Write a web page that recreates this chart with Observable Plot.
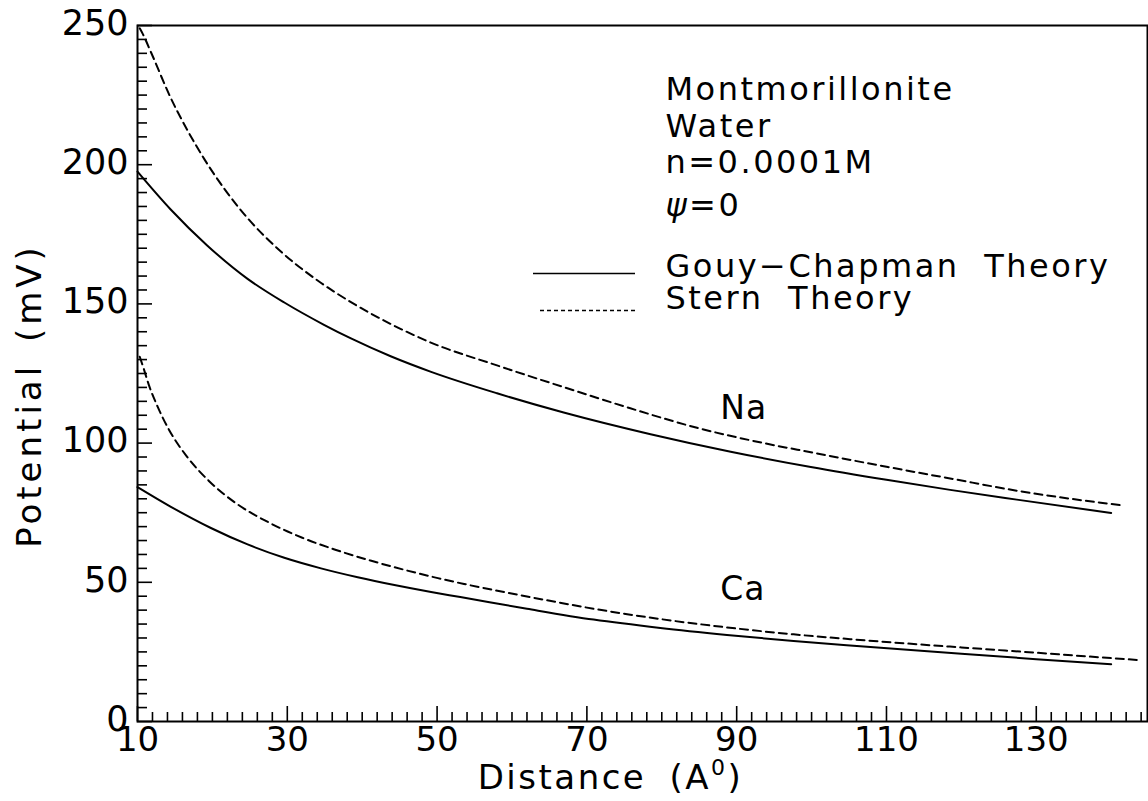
<!DOCTYPE html>
<html><head><meta charset="utf-8">
<script src="https://cdn.jsdelivr.net/npm/d3@7"></script>
<script src="https://cdn.jsdelivr.net/npm/@observablehq/plot@0.6"></script>
<style>body{margin:0;background:#fff}</style>
</head><body><div id="chart"></div>
<script>
// ---- data ----
const naGouyX  = [10, 14.4, 19.3, 24.7, 29.6, 34.9, 38.5, 43.8, 49.2, 58, 66.9, 78.5, 89.2, 99.9, 110, 118.5, 127.4, 140];
const naGouyY  = [197.5, 184, 171, 159, 150.5, 142.5, 137.6, 131.2, 125.6, 117.9, 111, 103.2, 96.9, 91.4, 86.8, 83.2, 79.7, 74.9];
const naSternX = [10.3, 10.7, 11.8, 14.4, 16.7, 18.9, 21.6, 24.7, 29.1, 34, 38.9, 43.8, 49, 58, 66.9, 75.8, 84.7, 93.6, 99.9, 110, 118.5, 127.4, 141.5];
const naSternY = [249, 247, 240.4, 224.2, 212.2, 202.1, 191.3, 180.8, 168.9, 158.5, 150, 142.8, 136.3, 127.9, 120.1, 112.5, 105.5, 100, 96.7, 91.5, 87.3, 82.9, 77.6];
const caGouyX  = [10, 14.4, 19.8, 24.7, 29.6, 34.5, 39.4, 44.3, 49.2, 53.1, 62, 70.9, 79.8, 88.7, 97.6, 106.5, 120, 130, 140];
const caGouyY  = [84.2, 77.2, 69.5, 63.6, 58.8, 55, 51.8, 49, 46.5, 44.7, 40.5, 36.6, 33.6, 31.1, 28.9, 27, 24.3, 22.4, 20.6];
const caSternX = [10.3, 10.8, 11.5, 12.7, 14.2, 16.5, 19.5, 23.1, 27.6, 32, 36.3, 41.1, 45.6, 50.1, 53.6, 62, 70.9, 79.8, 88.7, 97.6, 106.5, 120, 130, 144];
const caSternY = [131, 127, 121, 113, 104.8, 95.5, 86.5, 78.5, 71.4, 66, 61.8, 57.8, 54.5, 51.5, 49.4, 44.9, 40.5, 36.8, 33.8, 31.3, 29.3, 26.6, 24.7, 22];

const xTickLabels = [10, 30, 50, 70, 90, 110, 130];
const yTickLabels = [0, 50, 100, 150, 200, 250];
const xMinorStep = 2;
const yMinorStep = 5;
const xDomain = [10, 144.85];
const yDomain = [0, 250];

const ions = ["Na", "Ca"];
const ionLabelX = [87.8, 87.8];
const ionLabelY = [108.8, 43.5];
const notes = ["Montmorillonite", "Water", "n=0.0001M", "ψ=0", "Gouy−Chapman Theory", "Stern Theory"];
const xLabel = "Distance (A⁰)";
const yLabel = "Potential (mV)";

// ---- build tables ----
function rows(ion, theory, xs, ys) { return xs.map((x, i) => ({ion, theory, x, y: ys[i]})); }
const gouy = [...rows("Na", "Gouy", naGouyX, naGouyY), ...rows("Ca", "Gouy", caGouyX, caGouyY)];
const stern = [...rows("Na", "Stern", naSternX, naSternY), ...rows("Ca", "Stern", caSternX, caSternY)];
const ionRows = ions.map((t, i) => ({t, x: ionLabelX[i], y: ionLabelY[i]}));

// ---- layout ----
const W = 1148, H = 801;
const mL = 137, mR = 1, mT = 25, mB = 80;
const pw = W - mL - mR, ph = H - mT - mB;
const pxX = (xDomain[1] - xDomain[0]) / pw;  // data units per px
const pxY = (yDomain[1] - yDomain[0]) / ph;
const noteDx = 528;
const noteDy = [74, 111, 147, 190, 251, 283];

const xMinor = d3.range(xDomain[0], xDomain[1], xMinorStep).filter(v => !xTickLabels.includes(v));
const yMinor = d3.range(yDomain[0], yDomain[1] + 0.1, yMinorStep).filter(v => !yTickLabels.includes(v));

// legend swatch layout (pixel positions converted to data units)
const swX1 = xDomain[0] + (533 - mL) * pxX, swX2 = xDomain[0] + (635 - mL) * pxX;
const swY = [(H - mB - 273) * pxY, (H - mB - 310) * pxY];

const font = "DejaVu Sans";

const chart = Plot.plot({
  width: W, height: H,
  marginLeft: mL, marginRight: mR, marginTop: mT, marginBottom: mB,
  x: {domain: xDomain, axis: null},
  y: {domain: yDomain, axis: null},
  style: {fontFamily: font, background: "white", color: "black", overflow: "visible"},
  marks: [
    // inward ticks
    Plot.ruleX(xMinor, {x: d => d, y1: 0, y2: 9 * pxY, stroke: "black", strokeWidth: 1.6}),
    Plot.ruleX(xTickLabels, {x: d => d, y1: 0, y2: 15 * pxY, stroke: "black", strokeWidth: 1.6}),
    Plot.ruleY(yMinor, {y: d => d, x1: xDomain[0], x2: xDomain[0] + 10 * pxX, stroke: "black", strokeWidth: 1.6}),
    Plot.ruleY(yTickLabels, {y: d => d, x1: xDomain[0], x2: xDomain[0] + 15 * pxX, stroke: "black", strokeWidth: 1.6}),
    Plot.frame({stroke: "black", strokeWidth: 2}),
    // tick labels
    Plot.text(xTickLabels, {x: d => d, text: d => String(d), frameAnchor: "bottom", dy: 19, textAnchor: "middle", lineAnchor: "middle", fontSize: 34}),
    Plot.text(yTickLabels, {y: d => d, text: d => String(d), frameAnchor: "left", dx: -9, dy: -2, textAnchor: "end", lineAnchor: "middle", fontSize: 35}),
    // curves
    Plot.line(gouy, {x: "x", y: "y", z: "ion", stroke: "black", strokeWidth: 2, curve: "monotone-x"}),
    Plot.line(stern, {x: "x", y: "y", z: "ion", stroke: "black", strokeWidth: 2, strokeDasharray: "8,5", curve: "monotone-x"}),
    // ion labels
    Plot.text(ionRows, {x: "x", y: "y", text: "t", textAnchor: "start", lineAnchor: "bottom", fontSize: 33}),
    // notes & legend texts
    ...notes.map((t, i) => Plot.text([t], {text: d => d, frameAnchor: "top-left", dx: noteDx, dy: noteDy[i], textAnchor: "start", lineAnchor: "bottom", fontSize: 32})),
    // legend swatches
    Plot.ruleY([swY[0]], {y: d => d, x1: swX1, x2: swX2, stroke: "black", strokeWidth: 1.6}),
    Plot.ruleY([swY[1]], {y: d => d, x1: swX1 + 7 * pxX, x2: swX2, stroke: "black", strokeWidth: 1.6, strokeDasharray: "4,3"}),
    // axis titles
    Plot.text([xLabel], {frameAnchor: "bottom", dx: -32, dy: 57, textAnchor: "middle", lineAnchor: "middle", fontSize: 34}),
    Plot.text([yLabel], {frameAnchor: "left", dx: -107, dy: 22, rotate: -90, textAnchor: "middle", lineAnchor: "middle", fontSize: 34})
  ]
});
document.getElementById("chart").appendChild(chart);

// letter / word spacing tweaks to match the wide plotter font
const spacing = {
  "Montmorillonite": [2.5, 0], "Water": [2.5, 0], "n=0.0001M": [2.5, 0], "ψ=0": [2.5, 0],
  "Gouy−Chapman Theory": [2.5, 12], "Stern Theory": [2.5, 12],
  "Distance (A⁰)": [2.5, 10], "Potential (mV)": [4, 6], "Na": [1, 0], "Ca": [1, 0]
};
const NS = "http://www.w3.org/2000/svg";
d3.select(chart).selectAll("text").each(function () {
  const txt = this.textContent;
  const s = spacing[txt];
  if (s) { this.setAttribute("letter-spacing", s[0]); this.setAttribute("word-spacing", s[1]); }
  if (txt === "ψ=0") {
    this.textContent = "";
    const a = document.createElementNS(NS, "tspan"); a.setAttribute("font-style", "italic"); a.textContent = "ψ";
    const b = document.createElementNS(NS, "tspan"); b.textContent = "=0";
    this.append(a, b);
  }
  if (txt === xLabel) {
    this.textContent = "";
    const a = document.createElementNS(NS, "tspan"); a.textContent = "Distance (A";
    const b = document.createElementNS(NS, "tspan"); b.textContent = "0"; b.setAttribute("font-size", "22"); b.setAttribute("dy", "-14");
    const c = document.createElementNS(NS, "tspan"); c.textContent = ")"; c.setAttribute("dy", "14");
    this.append(a, b, c);
  }
});
</script>
</body></html>
